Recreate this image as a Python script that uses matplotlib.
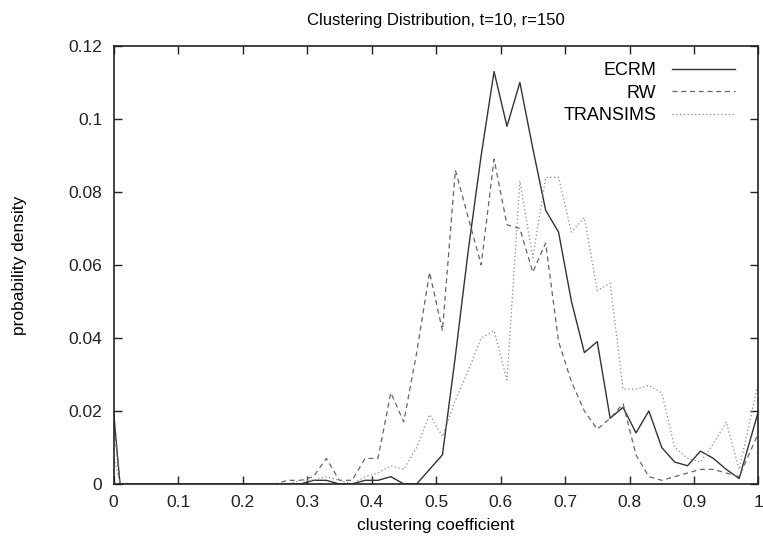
import numpy as np
import matplotlib
matplotlib.use('Agg')
import matplotlib.pyplot as plt

plt.rcParams['font.family'] = ['Liberation Sans', 'DejaVu Sans']

# clustering coefficient bins
coef = [0.0, 0.01, 0.03, 0.05, 0.07, 0.09, 0.11, 0.13, 0.15, 0.17, 0.19,
        0.21, 0.23, 0.25, 0.27, 0.29, 0.31, 0.33, 0.35, 0.37, 0.39,
        0.41, 0.43, 0.45, 0.47, 0.49, 0.51, 0.53, 0.55, 0.57, 0.59,
        0.61, 0.63, 0.65, 0.67, 0.69, 0.71, 0.73, 0.75, 0.77, 0.79,
        0.81, 0.83, 0.85, 0.87, 0.89, 0.91, 0.93, 0.95, 0.97, 1.0]

ecrm = [0.02, 0.0, 0, 0, 0, 0, 0, 0, 0, 0, 0,
        0, 0, 0, 0, 0.0, 0.001, 0.001, 0.0, 0.0, 0.001,
        0.001, 0.002, 0.0, 0.0, 0.004, 0.008, 0.035, 0.064, 0.09, 0.113,
        0.098, 0.11, 0.092, 0.075, 0.069, 0.05, 0.036, 0.039, 0.018, 0.021,
        0.014, 0.02, 0.01, 0.006, 0.005, 0.009, 0.007, 0.004, 0.0015, 0.02]

rw = [0.018, 0.0, 0, 0, 0, 0, 0, 0, 0, 0, 0,
      0, 0, 0, 0.001, 0.001, 0.002, 0.007, 0.001, 0.001, 0.007,
      0.007, 0.025, 0.017, 0.036, 0.058, 0.042, 0.086, 0.073, 0.06, 0.089,
      0.071, 0.07, 0.058, 0.066, 0.039, 0.028, 0.02, 0.015, 0.018, 0.022,
      0.008, 0.002, 0.001, 0.002, 0.003, 0.004, 0.004, 0.003, 0.002, 0.014]

transims = [0.008, 0.0, 0, 0, 0, 0, 0, 0, 0, 0, 0,
            0, 0, 0, 0.0, 0.001, 0.001, 0.002, 0.001, 0.0, 0.002,
            0.003, 0.005, 0.004, 0.01, 0.019, 0.013, 0.023, 0.031, 0.04, 0.042,
            0.0285, 0.083, 0.062, 0.084, 0.084, 0.069, 0.073, 0.053, 0.055, 0.026,
            0.026, 0.027, 0.025, 0.01, 0.007, 0.006, 0.011, 0.017, 0.004, 0.028]

fig = plt.figure(figsize=(7.63, 5.54), dpi=100)
ax = fig.add_axes([0.1488, 0.1264, 0.8453, 0.7906])

ax.plot(coef, ecrm, color='#333333', lw=1.0, ls='-', label='ECRM')
ax.plot(coef, rw, color='#666666', lw=0.9, ls=(0, (4, 3)), label='RW')
ax.plot(coef, transims, color='#8a8a8a', lw=0.9, ls=(0, (1, 2)), label='TRANSIMS')

ax.set_xlim(0, 1)
ax.set_ylim(0, 0.12)
ax.set_xticks(np.arange(0, 1.01, 0.1))
ax.set_xticklabels(['0', '0.1', '0.2', '0.3', '0.4', '0.5', '0.6', '0.7', '0.8', '0.9', '1'])
ax.set_yticks(np.arange(0, 0.121, 0.02))
ax.set_yticklabels(['0', '0.02', '0.04', '0.06', '0.08', '0.1', '0.12'])
ax.tick_params(direction='in', length=6, width=1, top=True, right=True,
               labelsize=12.5, pad=8, colors='#222222')
for s in ax.spines.values():
    s.set_linewidth(1.2)
    s.set_color('#222222')

ax.set_xlabel('clustering coefficient', fontsize=12.5, labelpad=6)
ax.set_ylabel('probability density', fontsize=12.5, labelpad=30)
ax.set_title('Clustering Distribution, t=10, r=150', fontsize=12, pad=15)

ax.legend(loc='upper right', frameon=False, markerfirst=False, fontsize=13,
          handlelength=3.5, handletextpad=0.85, labelspacing=0.3,
          borderpad=0, borderaxespad=0, bbox_to_anchor=(0.9636, 0.963))
leg = ax.get_legend()
for t in leg.get_texts():
    t.set_ha('right')

fig.savefig('out.png', dpi=100)
